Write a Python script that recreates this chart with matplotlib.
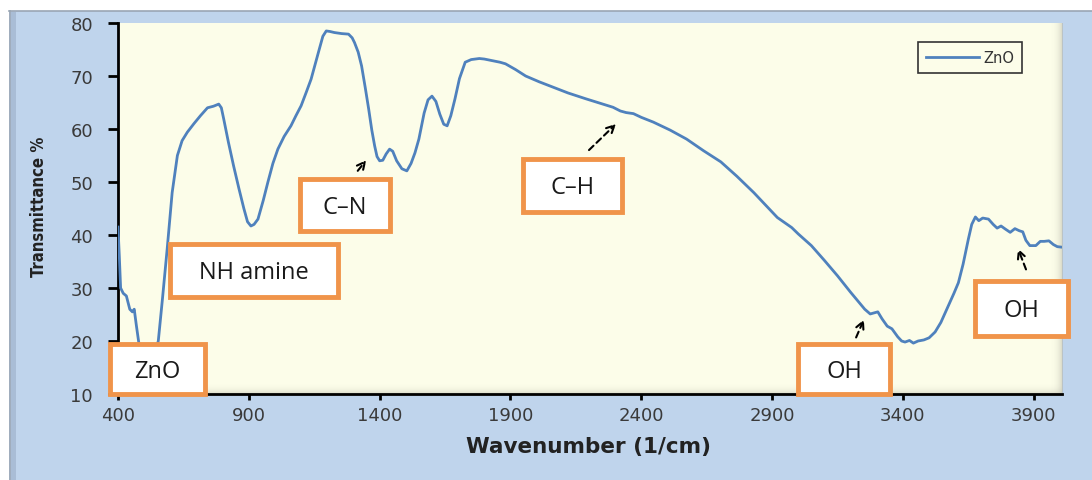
import matplotlib
matplotlib.use('Agg')
import matplotlib.pyplot as plt
from matplotlib.patches import Rectangle
import numpy as np

# FTIR spectrum of ZnO
wavenumber = [400, 405, 410, 420, 432, 445, 455, 462, 470, 480, 495, 510, 525, 540, 554,
              570, 588, 607, 627, 645, 665, 690, 715, 742, 765, 785, 795, 804, 822, 842,
              862, 881, 895, 908, 920, 935, 955, 973, 992, 1011, 1035, 1061, 1080, 1100,
              1120, 1138, 1155, 1169, 1183, 1196, 1210, 1227, 1255, 1281, 1295, 1304, 1318,
              1331, 1345, 1358, 1370, 1381, 1390, 1400, 1412, 1425, 1438, 1450, 1465, 1485,
              1504, 1520, 1535, 1550, 1570, 1585, 1600, 1615, 1630, 1645, 1658, 1672, 1688,
              1705, 1727, 1750, 1781, 1800, 1831, 1860, 1881, 1920, 1958, 2010, 2062, 2120,
              2188, 2240, 2292, 2320, 2342, 2370, 2400, 2446, 2510, 2573, 2638, 2704, 2765,
              2830, 2880, 2920, 2946, 2975, 3000, 3050, 3100, 3150, 3200, 3254, 3275, 3290,
              3304, 3320, 3340, 3358, 3380, 3395, 3408, 3425, 3440, 3458, 3480, 3500, 3523,
              3545, 3573, 3595, 3612, 3630, 3650, 3663, 3677, 3690, 3705, 3727, 3745, 3760,
              3775, 3792, 3810, 3828, 3845, 3858, 3870, 3885, 3908, 3925, 3940, 3958, 3975,
              3990, 4008]
transmittance = [41.5, 36, 30, 29, 28.5, 26, 25.5, 26, 23, 19.5, 16, 14.5, 15, 17.5, 20,
                 28, 37.4, 48, 55, 57.8, 59.4, 61, 62.5, 64, 64.3, 64.7, 64, 61.9, 57.5, 53,
                 48.8, 45, 42.5, 41.7, 42, 43, 46.5, 50, 53.5, 56.2, 58.6, 60.6, 62.5, 64.4,
                 67, 69.4, 72.5, 75, 77.5, 78.5, 78.4, 78.2, 78, 77.9, 77.2, 76.3, 74.5,
                 71.9, 67.8, 63.8, 59.8, 56.8, 54.8, 54, 54.1, 55.3, 56.2, 55.8, 54, 52.5,
                 52.1, 53.5, 55.5, 58.1, 63, 65.5, 66.2, 65.2, 62.8, 60.9, 60.6, 62.5, 65.7,
                 69.5, 72.6, 73.1, 73.3, 73.2, 72.9, 72.6, 72.3, 71.2, 70, 68.9, 67.9, 66.8,
                 65.7, 64.9, 64.1, 63.4, 63.1, 62.9, 62.2, 61.3, 59.8, 58.1, 55.9, 53.8, 51.1,
                 48, 45.4, 43.3, 42.4, 41.4, 40.2, 38, 35.2, 32.3, 29.2, 26, 25.1, 25.3,
                 25.5, 24.2, 22.8, 22.3, 20.8, 20, 19.8, 20.1, 19.6, 20, 20.2, 20.6, 21.7,
                 23.5, 26.6, 29, 31, 34.5, 39.2, 42, 43.4, 42.7, 43.2, 43, 42, 41.3,
                 41.7, 41.1, 40.5, 41.2, 40.8, 40.6, 39, 38, 38, 38.8, 38.8, 38.9, 38.2,
                 37.8, 37.7]

x_ticks = [400, 900, 1400, 1900, 2400, 2900, 3400, 3900]
y_ticks = [10, 20, 30, 40, 50, 60, 70, 80]

# band labels: text, box (left, top, right, bottom) in image pixels, arrow tail, arrow head
labels = ['ZnO', 'NH amine', 'C\u2013N', 'C\u2013H', 'OH', 'OH']
boxes = [(110, 345, 205, 395), (170, 245, 338, 298), (300, 180, 390, 232),
         (523, 160, 622, 213), (798, 345, 890, 395), (975, 282, 1068, 337)]
arrows = [None, None, ((356, 174), (368, 159)), ((587, 153), (618, 123)),
          ((855, 341), (865, 318)), ((1027, 273), (1017, 247))]

W, H = 1092, 481
fig = plt.figure(figsize=(W / 100, H / 100), dpi=100)
fig.patch.set_facecolor('#bfd4ec')


def fx(x):
    return x / W


def fy(y):
    return 1 - y / H


# white strip and grey border of the outer frame
fig.add_artist(Rectangle((0, fy(12)), 1, 12 / H, transform=fig.transFigure,
                         facecolor='white', edgecolor='none'))
fig.add_artist(Rectangle((0, 0), fx(9), 1, transform=fig.transFigure,
                         facecolor='white', edgecolor='none'))
fig.add_artist(plt.Line2D([fx(9), 1], [fy(12), fy(12)], transform=fig.transFigure,
                          color='#9aa6b4', lw=1.2))
fig.add_artist(plt.Line2D([fx(10), fx(10)], [0, fy(12)], transform=fig.transFigure,
                          color='#9aa6b4', lw=1.2))
fig.add_artist(Rectangle((fx(10.5), 0), fx(5), fy(12.5), transform=fig.transFigure,
                         facecolor='#a9bdd6', edgecolor='none'))

ax = fig.add_axes([fx(118), 1 - 395 / H, (1062 - 118) / W, (395 - 24) / H])
ax.set_facecolor('#fcfde9')

# soft shading on the right and bottom edges of the plot area
grad = np.linspace(0, 1, 50)
shade_r = np.zeros((2, 50, 4))
shade_r[..., :3] = [0.72, 0.72, 0.66]
shade_r[..., 3] = grad ** 3 * 0.6
ax.imshow(shade_r, extent=[0.985, 1, 0, 1], transform=ax.transAxes, aspect='auto', zorder=0)
shade_b = np.zeros((50, 2, 4))
shade_b[..., :3] = [0.72, 0.72, 0.66]
shade_b[..., 3] = (grad ** 3 * 0.5)[:, None]
ax.imshow(shade_b, extent=[0, 1, 0, 0.035], transform=ax.transAxes, aspect='auto', zorder=0)

ax.plot(wavenumber, transmittance, color='#4f81bd', lw=2, label='ZnO', zorder=3)

ax.set_xlim(400, 4008)
ax.set_ylim(10, 80)
ax.set_xticks(x_ticks)
ax.set_yticks(y_ticks)
for s in ['top', 'right']:
    ax.spines[s].set_visible(False)
for s in ['left', 'bottom']:
    ax.spines[s].set_linewidth(2)
    ax.spines[s].set_color('black')
ax.tick_params(axis='y', direction='out', length=7, width=2, pad=11,
               labelsize=13, labelcolor='#3a3a3a')
ax.tick_params(axis='x', direction='out', length=4, width=2, pad=5,
               labelsize=13, labelcolor='#3a3a3a')

leg = ax.legend(loc='upper right', bbox_to_anchor=((1022 - 118) / 944, (395 - 43) / 371),
                borderaxespad=0, fancybox=False, handlelength=3.6, borderpad=0.55,
                handletextpad=0.3, fontsize=10.5, framealpha=1)
leg.get_frame().set_edgecolor('#333333')
leg.get_frame().set_facecolor('#fcfde9')
leg.get_frame().set_linewidth(1.2)
for t in leg.get_texts():
    t.set_color('#333333')

fig.text(fx(39), fy(207), 'Transmittance %', rotation=90, ha='center', va='center',
         fontsize=12, fontweight='bold', fontstretch='condensed', color='#222222',
         family=['DejaVu Sans'])
fig.text(fx(589), fy(447), 'Wavenumber (1/cm)', ha='center', va='center',
         fontsize=15.5, fontweight='bold', color='#222222')

for text, (l, t, r, b), arr in zip(labels, boxes, arrows):
    fig.add_artist(Rectangle((fx(l), fy(b)), fx(r - l), (b - t) / H,
                             transform=fig.transFigure, facecolor='white',
                             edgecolor='#f0944a', lw=3.5, zorder=5))
    fig.text(fx((l + r) / 2), fy((t + b) / 2 + 2), text, ha='center', va='center',
             fontsize=17, color='#1a1a1a', family=['Open Sans', 'DejaVu Sans'], zorder=6)
    if arr is not None:
        (x0, y0), (x1, y1) = arr
        ax.annotate('', xy=(x1, H - y1), xycoords='figure pixels',
                    xytext=(x0, H - y0), textcoords='figure pixels',
                    arrowprops=dict(arrowstyle='->', linestyle=(0, (3, 2)), lw=1.5,
                                    color='black', mutation_scale=14),
                    annotation_clip=False)

fig.savefig('out.png', dpi=100, facecolor=fig.get_facecolor())
